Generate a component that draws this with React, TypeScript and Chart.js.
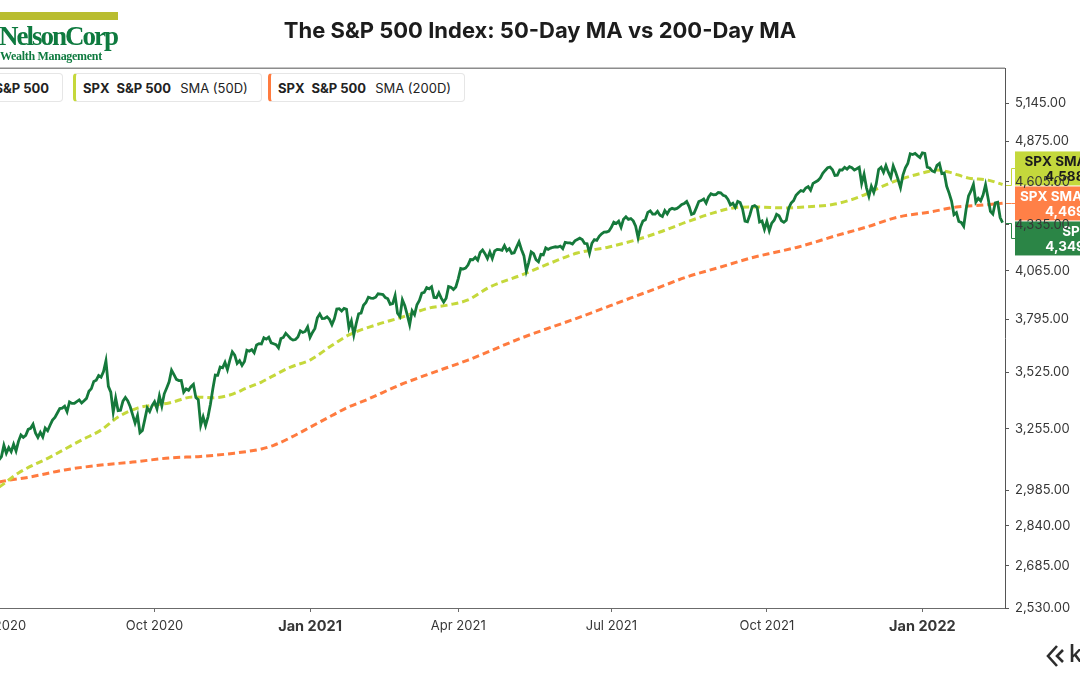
import React, { useEffect, useRef } from "react";
import { Chart, registerables } from "chart.js";

Chart.register(...registerables);

// ---------- calendar ----------
const HOLIDAYS = [
  "2020-07-03", "2020-09-07", "2020-11-26", "2020-12-25",
  "2021-01-01", "2021-01-18", "2021-02-15", "2021-04-02", "2021-05-31",
  "2021-07-05", "2021-09-06", "2021-11-25", "2021-12-24", "2022-01-17",
];

// ---------- data ----------
const SPX_START = "2020-06-26";
const spx2020 = [
  3009, 3053, 3100,
  3116, 3130, 3180, 3145, 3170, 3152, 3185, 3155, 3198, 3227, 3216, 3225, 3252, 3257, 3276, 3236, 3216, 3239, 3218, 3258, 3246, 3271,
  3295, 3307, 3328, 3349, 3351, 3360, 3334, 3380, 3373, 3373, 3382, 3390, 3375, 3386, 3397, 3431, 3444, 3479, 3485, 3508, 3500,
  3527, 3581, 3455, 3427, 3332, 3399, 3339, 3341, 3384, 3401, 3385, 3357, 3319, 3281, 3316, 3237, 3247, 3298, 3352, 3335, 3363,
  3381, 3348, 3409, 3361, 3419, 3447, 3477, 3534, 3512, 3489, 3483, 3484, 3427, 3443, 3436, 3453, 3465, 3401, 3391, 3271, 3310, 3270,
  3310, 3369, 3443, 3510, 3509, 3550, 3546, 3573, 3537, 3585, 3627, 3610, 3568, 3582, 3558, 3578, 3635, 3630, 3638, 3622,
  3662, 3669, 3667, 3699, 3692, 3702, 3673, 3668, 3663, 3647, 3695, 3701, 3722, 3709, 3695, 3687, 3690, 3703, 3735, 3727, 3732, 3756,
];
const spx2021H1 = [
  3701, 3727, 3748, 3804, 3825, 3800, 3801, 3810, 3796, 3768, 3799, 3852, 3853, 3841, 3855, 3850, 3751, 3787, 3714,
  3774, 3826, 3830, 3872, 3887, 3916, 3911, 3910, 3916, 3935, 3933, 3931, 3914, 3907, 3877, 3881, 3925, 3829, 3811,
  3902, 3870, 3820, 3768, 3842, 3821, 3875, 3899, 3939, 3943, 3969, 3963, 3974, 3915, 3913, 3941, 3911, 3889, 3910, 3975, 3971, 3959, 3973,
  4020, 4078, 4074, 4080, 4097, 4129, 4128, 4142, 4125, 4170, 4185, 4163, 4135, 4173, 4135, 4180, 4188, 4187, 4183, 4211, 4181,
  4193, 4165, 4168, 4202, 4233, 4188, 4152, 4063, 4113, 4174, 4163, 4128, 4116, 4159, 4156, 4197, 4188, 4196, 4201, 4204,
  4202, 4208, 4193, 4230, 4227, 4227, 4220, 4239, 4247, 4255, 4247, 4224, 4222, 4166, 4225, 4246, 4242, 4266, 4281, 4291, 4292, 4298,
];
const spx2021H2 = [
  4320, 4352, 4344, 4358, 4321, 4370, 4385, 4369, 4374, 4360, 4327, 4258, 4323, 4359, 4367, 4412, 4422, 4401, 4401, 4419, 4395,
  4387, 4423, 4403, 4429, 4437, 4432, 4437, 4448, 4461, 4468, 4480, 4448, 4400, 4406, 4442, 4480, 4486, 4496, 4470, 4509, 4529, 4523,
  4524, 4537, 4535, 4520, 4514, 4493, 4459, 4469, 4443, 4481, 4474, 4433, 4358, 4354, 4396, 4449, 4455, 4443, 4353, 4359, 4308,
  4357, 4300, 4346, 4364, 4400, 4391, 4361, 4351, 4364, 4438, 4471, 4486, 4520, 4536, 4550, 4545, 4566, 4575, 4552, 4596, 4605,
  4614, 4631, 4661, 4680, 4698, 4702, 4685, 4647, 4649, 4683, 4683, 4701, 4689, 4705, 4698, 4683, 4691, 4701, 4595, 4655, 4567,
  4513, 4577, 4538, 4592, 4687, 4701, 4667, 4712, 4669, 4634, 4710, 4669, 4621, 4568, 4649, 4697, 4726, 4791, 4786, 4793, 4779, 4766,
];
const spx2022 = [
  4797, 4794, 4701, 4696, 4677, 4670, 4713, 4726, 4659, 4663, 4577, 4533, 4483, 4398, 4410, 4356, 4350, 4327, 4432, 4516,
  4547, 4589, 4477, 4501, 4484, 4522, 4587, 4504, 4419, 4402, 4471, 4475, 4380, 4349,
];

const sma50Dates = [
  "2020-06-26", "2020-07-01", "2020-07-14", "2020-07-31", "2020-08-19", "2020-08-31", "2020-09-10", "2020-09-22",
  "2020-10-09", "2020-10-23", "2020-11-04", "2020-11-13", "2020-11-24", "2020-12-03", "2020-12-09", "2020-12-21",
  "2021-01-04", "2021-01-14", "2021-01-27", "2021-02-11", "2021-03-01", "2021-03-16", "2021-03-26", "2021-04-08",
  "2021-04-21", "2021-05-10", "2021-05-26", "2021-06-11", "2021-06-30", "2021-07-16", "2021-07-30", "2021-08-16",
  "2021-08-31", "2021-09-13", "2021-09-24", "2021-10-13", "2021-10-25", "2021-11-10", "2021-11-24", "2021-12-07",
  "2021-12-17", "2022-01-03", "2022-01-11", "2022-01-19", "2022-01-31", "2022-02-10", "2022-02-18",
];
const sma50Values = [
  2985, 2999, 3059, 3128, 3204, 3249, 3309, 3351,
  3375, 3404, 3400, 3413, 3447, 3476, 3501, 3550,
  3585, 3651, 3714, 3766, 3809, 3857, 3874, 3901,
  3973, 4040, 4109, 4167, 4203, 4244, 4292, 4353,
  4409, 4440, 4446, 4440, 4446, 4464, 4509, 4566,
  4617, 4663, 4683, 4669, 4630, 4617, 4588.4,
];

const sma200Dates = [
  "2020-06-26", "2020-07-01", "2020-07-21", "2020-08-10", "2020-08-31", "2020-09-18", "2020-10-09", "2020-10-28",
  "2020-11-16", "2020-12-03", "2020-12-10", "2020-12-21", "2021-01-04", "2021-01-15", "2021-01-26",
  "2021-02-05", "2021-02-26", "2021-03-17", "2021-04-08", "2021-05-10", "2021-06-11", "2021-07-14", "2021-07-29",
  "2021-08-16", "2021-09-03", "2021-09-24", "2021-10-07", "2021-10-20", "2021-11-10", "2021-11-30", "2021-12-17",
  "2022-01-06", "2022-01-24", "2022-02-08", "2022-02-18",
];
const sma200Values = [
  3012, 3020, 3042, 3072, 3093, 3106, 3124, 3131,
  3144, 3164, 3180, 3215, 3262, 3316, 3352,
  3389, 3462, 3520, 3585, 3698, 3803, 3912, 3967,
  4029, 4086, 4144, 4173, 4203, 4268, 4322, 4383,
  4414, 4445, 4458, 4469.4,
];

const monthTickDates = ["2020-07-01", "2020-10-01", "2021-01-04", "2021-04-01", "2021-07-01", "2021-10-01", "2022-01-03"];
const monthTickLabels = ["Jul 2020", "Oct 2020", "Jan 2021", "Apr 2021", "Jul 2021", "Oct 2021", "Jan 2022"];
const yTickValues = [2530, 2685, 2840, 2985, 3255, 3525, 3795, 4065, 4335, 4605, 4875, 5145];

// ---------- colours ----------
const C_PRICE = "#15793b";
const C_SMA50 = "#c5d83b";
const C_SMA200 = "#ff7b3f";
const BOX_PRICE = "#2b8546";
const BOX_SMA50 = "#c4d83c";
const BOX_SMA200 = "#ff8047";

// ---------- helpers ----------
function buildCalendar(start: string, end: string): string[] {
  const out: string[] = [];
  let t = Date.parse(start + "T00:00:00Z");
  const e = Date.parse(end + "T00:00:00Z");
  while (t <= e) {
    const d = new Date(t);
    const wd = d.getUTCDay();
    const s = d.toISOString().slice(0, 10);
    if (wd !== 0 && wd !== 6 && HOLIDAYS.indexOf(s) < 0) out.push(s);
    t += 86400000;
  }
  return out;
}
const CAL = buildCalendar("2020-06-01", "2022-03-31");
const BASE = CAL.indexOf("2021-01-04");
function xOf(date: string): number {
  for (let i = 0; i < CAL.length; i++) if (CAL[i] >= date) return i - BASE;
  return CAL.length - BASE;
}
function fmt(v: number): string {
  return v.toLocaleString("en-US", { minimumFractionDigits: 2, maximumFractionDigits: 2 });
}

const X_MIN = -127.6;
const X_MAX = 286.0;
const FONT = "Inter, 'Noto Sans', sans-serif";

export default function App() {
  const ref = useRef<HTMLCanvasElement | null>(null);

  useEffect(() => {
    const canvas = ref.current;
    if (!canvas) return;
    const allSpx = [...spx2020, ...spx2021H1, ...spx2021H2, ...spx2022];
    const x0 = xOf(SPX_START);
    const pricePts = allSpx.map((v, i) => ({ x: x0 + i, y: v }));
    const sma50Pts = sma50Dates.map((d, i) => ({ x: xOf(d), y: sma50Values[i] }));
    const sma200Pts = sma200Dates.map((d, i) => ({ x: xOf(d), y: sma200Values[i] }));
    const tickXs = monthTickDates.map((d) => xOf(d));

    const endLabels = [
      { t: "SPX SMA (50D)", v: sma50Values[sma50Values.length - 1], bg: BOX_SMA50, fg: "#1c1c1c" },
      { t: "SPX SMA (200D)", v: sma200Values[sma200Values.length - 1], bg: BOX_SMA200, fg: "#ffffff" },
      { t: "SPX", v: allSpx[allSpx.length - 1], bg: BOX_PRICE, fg: "#ffffff" },
    ];

    const overlay = {
      id: "overlay",
      beforeDraw(chart: any) {
        const { ctx, chartArea, scales } = chart;
        const ys = scales.y;
        const H = 34;
        const G = 1;
        const vys = endLabels.map((l) => ys.getPixelForValue(l.v));
        const mean = vys.reduce((a, b) => a + b, 0) / vys.length;
        const total = endLabels.length * H + (endLabels.length - 1) * G;
        const top = mean - total / 2;
        const axisX = chartArea.right;
        const boxL = axisX + 10;
        const boxW = 122;
        ctx.save();
        endLabels.forEach((l, i) => {
          const by = top + i * (H + G);
          const cy = by + H / 2;
          ctx.fillStyle = l.bg;
          ctx.fillRect(boxL, by, boxW, H);
          ctx.strokeStyle = l.bg;
          ctx.lineWidth = 1;
          ctx.beginPath();
          ctx.moveTo(axisX, Math.round(vys[i]) + 0.5);
          ctx.lineTo(axisX + 6.5, Math.round(vys[i]) + 0.5);
          ctx.lineTo(axisX + 6.5, Math.round(cy) + 0.5);
          ctx.lineTo(boxL, Math.round(cy) + 0.5);
          ctx.stroke();
          ctx.fillStyle = l.fg;
          ctx.textAlign = "center";
          ctx.textBaseline = "middle";
          ctx.font = "bold 13.5px " + FONT;
          ctx.fillText(l.t, boxL + boxW / 2, by + 10);
          ctx.fillText(fmt(l.v), boxL + boxW / 2, by + 25);
        });
        ctx.restore();
      },
      afterDraw(chart: any) {
        const { ctx, chartArea } = chart;
        ctx.save();
        ctx.strokeStyle = "#8c8c8c";
        ctx.lineWidth = 1.5;
        ctx.beginPath();
        ctx.moveTo(0, chartArea.top + 0.25);
        ctx.lineTo(chartArea.right, chartArea.top + 0.25);
        ctx.stroke();
        ctx.restore();
      },
    };

    const chart = new Chart(canvas, {
      type: "line",
      data: {
        datasets: [
          {
            label: "SPX",
            data: pricePts,
            borderColor: C_PRICE,
            borderWidth: 2.8,
            pointRadius: 0,
            tension: 0,
            order: 1,
          },
          {
            label: "SMA50",
            data: sma50Pts,
            borderColor: C_SMA50,
            borderWidth: 3,
            borderDash: [7, 4],
            pointRadius: 0,
            cubicInterpolationMode: "monotone",
            order: 2,
          },
          {
            label: "SMA200",
            data: sma200Pts,
            borderColor: C_SMA200,
            borderWidth: 3,
            borderDash: [7, 4],
            pointRadius: 0,
            cubicInterpolationMode: "monotone",
            order: 3,
          },
        ],
      },
      options: {
        animation: false,
        responsive: false,
        maintainAspectRatio: false,
        events: [],
        layout: { padding: { top: 68, left: 0, right: 0, bottom: 0 } },
        plugins: {
          legend: { display: false },
          title: { display: false },
          tooltip: { enabled: false },
        },
        scales: {
          x: {
            type: "linear",
            min: X_MIN,
            max: X_MAX,
            offset: false,
            afterBuildTicks: (s: any) => {
              s.ticks = tickXs.map((v) => ({ value: v }));
            },
            afterFit: (s: any) => {
              s.height = 67;
              s.paddingLeft = 0;
              s.paddingRight = 0;
            },
            grid: { drawOnChartArea: false, drawTicks: true, tickLength: 4, color: "#6b6b6b" },
            border: { display: true, color: "#6b6b6b", width: 1 },
            ticks: {
              autoSkip: false,
              maxRotation: 0,
              padding: 6,
              color: "#363636",
              callback: (v: any) => {
                const i = tickXs.indexOf(Number(v));
                return i >= 0 ? monthTickLabels[i] : "";
              },
              font: (ctx: any) => {
                const v = ctx.tick ? ctx.tick.value : null;
                const i = tickXs.indexOf(Number(v));
                const isJan = i >= 0 && monthTickLabels[i].startsWith("Jan");
                return isJan
                  ? { family: FONT, size: 14.5, weight: "bold" }
                  : { family: FONT, size: 13, weight: "normal" };
              },
            },
          },
          y: {
            type: "logarithmic",
            position: "right",
            min: 2530,
            max: 5405,
            afterBuildTicks: (s: any) => {
              s.ticks = yTickValues.map((v) => ({ value: v }));
            },
            afterFit: (s: any) => {
              s.width = 75;
              s.paddingTop = 0;
              s.paddingBottom = 0;
            },
            grid: { drawOnChartArea: false, drawTicks: true, tickLength: 4, color: "#555" },
            border: { display: true, color: "#555", width: 1 },
            ticks: {
              autoSkip: false,
              padding: 6,
              color: "#363636",
              font: { family: FONT, size: 13 },
              callback: (v: any) => fmt(Number(v)),
            },
          },
        },
      },
      plugins: [overlay],
    } as any);

    return () => chart.destroy();
  }, []);

  const legendBox = (bar: string, extra: React.CSSProperties, third?: string) => (
    <div
      style={{
        position: "absolute",
        top: 73,
        height: 29,
        boxSizing: "border-box",
        border: "1px solid #e6e6e6",
        borderLeft: `3px solid ${bar}`,
        borderRadius: 4,
        background: "#fff",
        display: "flex",
        alignItems: "center",
        gap: 7,
        paddingLeft: 7,
        paddingRight: 13,
        fontSize: 13,
        color: "#222",
        whiteSpace: "nowrap",
        ...extra,
      }}
    >
      <span style={{ fontWeight: 700 }}>SPX</span>
      <span style={{ fontWeight: 700 }}>S&amp;P 500</span>
      {third ? <span style={{ fontWeight: 400, marginLeft: 2 }}>{third}</span> : null}
    </div>
  );

  return (
    <div
      style={{
        position: "fixed",
        left: 0,
        top: 0,
        width: 1080,
        height: 675,
        background: "#ffffff",
        overflow: "hidden",
        fontFamily: FONT,
      }}
    >
      <canvas
        ref={ref}
        width={1080}
        height={675}
        style={{ position: "absolute", left: 0, top: 0, width: 1080, height: 675, display: "block" }}
      />
      {/* logo */}
      <div style={{ position: "absolute", left: 0, top: 12, width: 118, height: 8, background: "#b9bd2f" }} />
      <div
        style={{
          position: "absolute",
          left: -1,
          top: 20,
          fontFamily: "'Liberation Serif', 'DejaVu Serif', serif",
          fontSize: 27,
          fontWeight: 700,
          letterSpacing: -2,
          color: "#0e7a3f",
          lineHeight: "32px",
          whiteSpace: "nowrap",
        }}
      >
        NelsonCorp
      </div>
      <div
        style={{
          position: "absolute",
          left: 0,
          top: 49,
          fontFamily: "'Liberation Serif', 'DejaVu Serif', serif",
          fontSize: 12,
          fontWeight: 700,
          letterSpacing: -0.3,
          color: "#0e7a3f",
          lineHeight: "14px",
          whiteSpace: "nowrap",
        }}
      >
        Wealth Management
      </div>
      {/* title */}
      <div
        style={{
          position: "absolute",
          left: 0,
          width: 1080,
          top: 16,
          textAlign: "center",
          fontSize: 22,
          fontWeight: 700,
          color: "#1c1c1c",
          lineHeight: "28px",
        }}
      >
        The S&amp;P 500 Index: 50-Day MA vs 200-Day MA
      </div>
      {/* legend */}
      {legendBox(BOX_PRICE, { right: 1080 - 63 })}
      {legendBox(C_SMA50, { left: 73 }, "SMA (50D)")}
      {legendBox(C_SMA200, { left: 268 }, "SMA (200D)")}
      {/* brand mark */}
      <svg style={{ position: "absolute", left: 1046, top: 645 }} width={22} height={22} viewBox="0 0 22 22">
        <path d="M11 1 L2 11 L11 21" fill="none" stroke="#2d2d2d" strokeWidth={2.6} />
        <path d="M17 5 L11 11 L17 17" fill="none" stroke="#2d2d2d" strokeWidth={2.6} />
      </svg>
      <div
        style={{
          position: "absolute",
          left: 1069,
          top: 640,
          fontSize: 24,
          fontWeight: 500,
          color: "#2d2d2d",
          lineHeight: "28px",
        }}
      >
        k
      </div>
    </div>
  );
}
